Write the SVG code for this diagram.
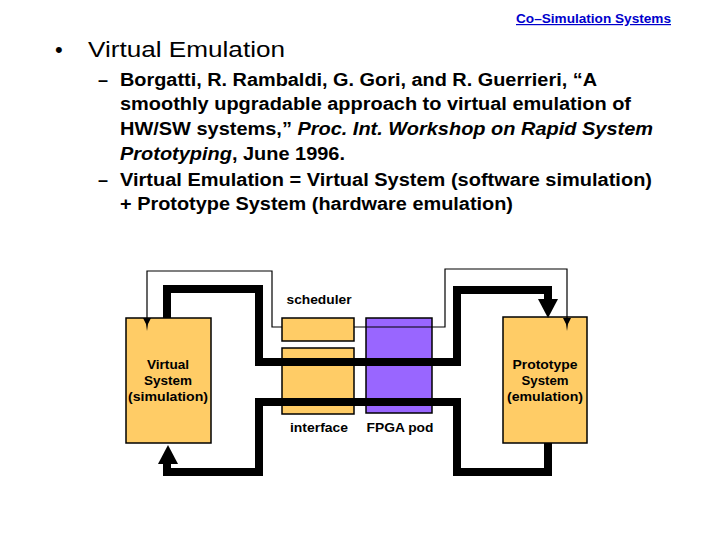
<svg xmlns="http://www.w3.org/2000/svg" width="720" height="540" viewBox="0 0 720 540">
<style>
text{font-family:"Liberation Sans",Arial,sans-serif;fill:#000}
.title{font-size:22px}
.sub{font-size:18px;font-weight:bold}
.lbl{font-size:13px;font-weight:bold;text-anchor:middle}
.box{fill:#FFCC66;stroke:#000;stroke-width:1.5}
.fpga{fill:#9966FF;stroke:#000;stroke-width:1.5}
.thick{fill:none;stroke:#000;stroke-width:8;stroke-linejoin:miter}
.thin{fill:none;stroke:#000;stroke-width:1.2}
</style>
<rect width="720" height="540" fill="#fff"/>
<text x="516" y="23" textLength="155" lengthAdjust="spacingAndGlyphs" style="font-size:12px;font-weight:bold;fill:#0000CC;text-decoration:underline">Co–Simulation Systems</text>
<g id="text-body">
<text x="55" y="57" class="title">•</text>
<text x="88" y="57" class="title" textLength="197" lengthAdjust="spacingAndGlyphs">Virtual Emulation</text>
<text x="98" y="86" class="sub">–</text>
<text x="120" y="86" class="sub" textLength="477" lengthAdjust="spacingAndGlyphs">Borgatti, R. Rambaldi, G. Gori, and R. Guerrieri, “A</text>
<text x="120" y="110" class="sub" textLength="511" lengthAdjust="spacingAndGlyphs">smoothly upgradable approach to virtual emulation of</text>
<text x="120" y="135" class="sub" textLength="533" lengthAdjust="spacingAndGlyphs">HW/SW systems,” <tspan font-style="italic">Proc. Int. Workshop on Rapid System</tspan></text>
<text x="120" y="160" class="sub" textLength="225" lengthAdjust="spacingAndGlyphs"><tspan font-style="italic">Prototyping</tspan>, June 1996.</text>
<text x="98" y="186" class="sub">–</text>
<text x="120" y="186" class="sub" textLength="532" lengthAdjust="spacingAndGlyphs">Virtual Emulation = Virtual System (software simulation)</text>
<text x="120" y="210" class="sub" textLength="393" lengthAdjust="spacingAndGlyphs">+ Prototype System (hardware emulation)</text>
</g>
<g id="virtual">
<rect class="box" x="126" y="318" width="85" height="125"/>
<text class="lbl" x="168" y="369" textLength="42" lengthAdjust="spacingAndGlyphs">Virtual</text>
<text class="lbl" x="168" y="385" textLength="48" lengthAdjust="spacingAndGlyphs">System</text>
<text class="lbl" x="168" y="401" textLength="80" lengthAdjust="spacingAndGlyphs">(simulation)</text>
</g>
<g id="scheduler">
<rect class="box" x="282" y="318" width="72" height="23"/>
<text class="lbl" x="319" y="304" textLength="65" lengthAdjust="spacingAndGlyphs">scheduler</text>
</g>
<g id="interface">
<rect class="box" x="282" y="348" width="72" height="66"/>
<text class="lbl" x="319" y="432" textLength="58" lengthAdjust="spacingAndGlyphs">interface</text>
</g>
<g id="fpga">
<rect class="fpga" x="366" y="318" width="66" height="95"/>
<text class="lbl" x="400" y="432" textLength="67" lengthAdjust="spacingAndGlyphs">FPGA pod</text>
</g>
<g id="prototype">
<rect class="box" x="503" y="317" width="84" height="126"/>
<text class="lbl" x="545" y="369" textLength="65" lengthAdjust="spacingAndGlyphs">Prototype</text>
<text class="lbl" x="545" y="385" textLength="47" lengthAdjust="spacingAndGlyphs">System</text>
<text class="lbl" x="545" y="401" textLength="76" lengthAdjust="spacingAndGlyphs">(emulation)</text>
</g>
<g id="connectors">
<polyline class="thin" points="282,327 272,327 272,271 147,271 147,320"/>
<polygon points="143,318 151,318 148,324 147,331 146,324"/>
<polyline class="thin" points="354,327 445,327 445,269 567,269 567,320"/>
<polygon points="563,318 571,318 568,324 567,331 566,324"/>
<polyline class="thick" points="167,318 167,289 259,289 259,362 457,362 457,290 548,290 548,300"/>
<polygon points="538,299 558,299 548,318"/>
<polyline class="thick" points="457,402 259,402"/>
<polyline class="thick" points="259,398 259,472 167,472 167,462"/>
<polygon points="158,464 178,464 168,445"/>
<polyline class="thick" points="457,398 457,472 548,472 548,443"/>
</g>
</svg>
